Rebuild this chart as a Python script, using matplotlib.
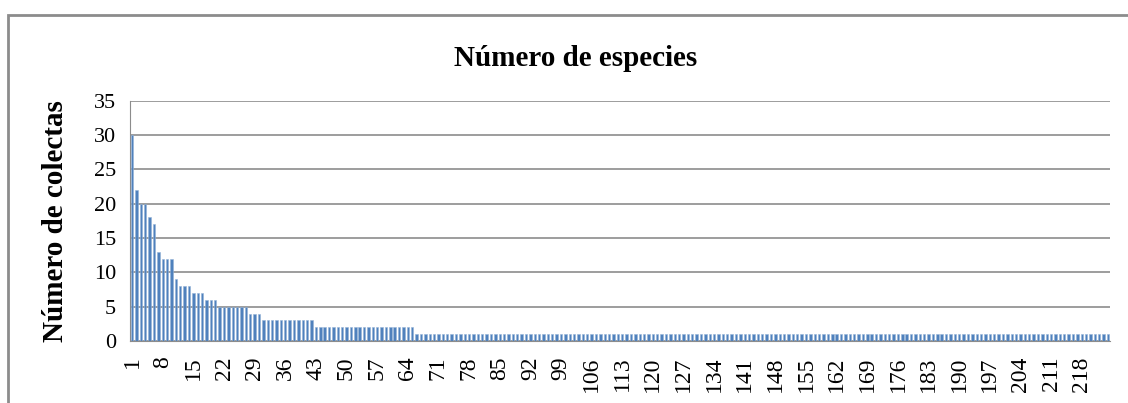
import numpy as np
import matplotlib.pyplot as plt
from matplotlib.patches import Rectangle

# collections per species, sorted from most to least collected
head_counts = [30, 22, 20, 20, 18, 17, 13, 12, 12, 12,
               9, 8, 8, 8, 7, 7, 7, 6, 6, 6,
               5, 5, 5, 5, 5, 5, 5, 4, 4, 4,
               3, 3, 3, 3, 3, 3, 3, 3, 3, 3, 3, 3]
n_twos = 23      # species 43-65
n_ones = 159     # species 66-224
counts = head_counts + [2] * n_twos + [1] * n_ones
species = np.arange(1, len(counts) + 1)

y_ticks = [0, 5, 10, 15, 20, 25, 30, 35]
x_tick_labels = list(range(1, 219, 7))

plt.rcParams['font.family'] = ['Liberation Serif', 'DejaVu Serif']

fig = plt.figure(figsize=(11.28, 4.03), dpi=100)
ax = fig.add_axes([0.1152, 0.1538, 0.869, 0.596])

ax.bar(species, counts, width=0.55, color='#4F81BD', edgecolor='#95B3D7', linewidth=0.4)

ax.set_xlim(0.5, len(counts) + 0.5)
ax.set_ylim(0, 35)
ax.set_yticks(y_ticks)
ax.set_yticklabels([str(v) for v in y_ticks], fontsize=16)
ax.set_xticks(x_tick_labels)
ax.set_xticklabels([str(v) for v in x_tick_labels], rotation=90, fontsize=17)
ax.tick_params(axis='y', length=0, pad=10)
ax.tick_params(axis='x', length=0, pad=11)

ax.yaxis.grid(True, color='#8c8c8c', linewidth=1.2)
ax.set_axisbelow(True)
for side in ['top', 'right']:
    ax.spines[side].set_visible(False)
ax.spines['left'].set_color('#8c8c8c')
ax.spines['bottom'].set_color('#8c8c8c')

ax.set_ylabel('Número de colectas', fontsize=21, fontweight='bold', labelpad=18)
fig.text(0.51, 0.855, 'Número de especies', ha='center', va='center',
         fontsize=21, fontweight='bold')

# outer chart frame
fig.patches.append(Rectangle((8 / 1128, -0.1), 1.2, 1 - 15 / 403 + 0.1,
                             transform=fig.transFigure, fill=False,
                             edgecolor='#8c8c8c', linewidth=2))

fig.savefig('out.png', dpi=100)
